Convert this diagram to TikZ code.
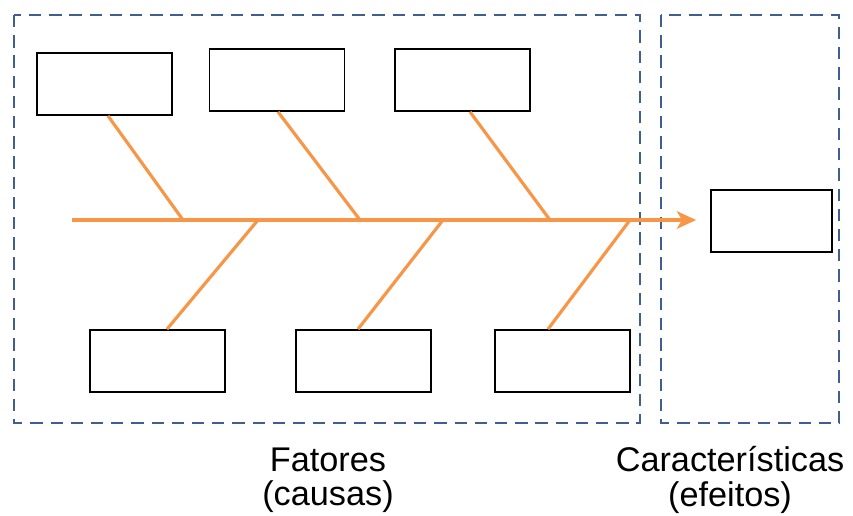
\documentclass[tikz,border=0pt]{standalone}
\usepackage{fontspec}
\setmainfont{Liberation Sans}
\usepackage{tikz}
\usetikzlibrary{arrows.meta}
\definecolor{bonecolor}{RGB}{247,150,70}
\definecolor{framecolor}{RGB}{64,95,145}
\tikzset{
    causebox/.style={
        draw=black, line width=1pt, fill=white,
        minimum width=2.7cm, minimum height=1.24cm, inner sep=0pt
    },
    bone/.style={draw=bonecolor, line width=1.8pt},
    groupframe/.style={draw=framecolor, line width=1.1pt, dash pattern=on 7pt off 4.5pt},
    caption/.style={align=center, font=\fontsize{19.5}{19.5}\selectfont}
}

\begin{document}
\begin{tikzpicture}[x=0.02cm, y=-0.02cm]
	\useasboundingbox (0,0) rectangle (853,515);
	
	% the two dashed groups
	\draw[groupframe] (14,15) rectangle (640,423);
	\draw[groupframe] (661,15) rectangle (839,423);
	
	% boxes of the causes and of the effect
	\node[causebox] (t1) at (104.5,84) {};
	\node[causebox] (t2) at (277,80) {};
	\node[causebox] (t3) at (462.5,80) {};
	\node[causebox] (b1) at (157.5,361) {};
	\node[causebox] (b2) at (363.5,361) {};
	\node[causebox] (b3) at (562.5,361) {};
	\node[causebox, minimum width=2.42cm] (eff) at (771.5,221) {};
	
	% the spine
	\coordinate (tail) at (72,220);
	\draw[bone, -{Stealth[length=11pt, width=10pt, inset=3pt]}, shorten >=14*0.02cm] (tail) -- (tail -| eff.west);
	
	% the bones
	\foreach \bx/\x/\dx in {t1/183/3.5, t2/360/1, t3/550/7.5} {
			\coordinate (j-\bx) at (\x,220);
			\draw[bone] (j-\bx) -- ([xshift=\dx*0.02cm]\bx.south);
	}
	\foreach \bx/\x/\dx in {b1/258/9.5, b2/443/-5.5, b3/630/-14.5} {
			\coordinate (j-\bx) at (\x,220);
			\draw[bone] (j-\bx) -- ([xshift=\dx*0.02cm]\bx.north);
	}
	
	% captions
	\node[caption] (causes) at (328,480) {Fatores\\(causas)};
	\node[caption] (effects) at (730,480) {Características\\(efeitos)};
	
\end{tikzpicture}
\end{document}
